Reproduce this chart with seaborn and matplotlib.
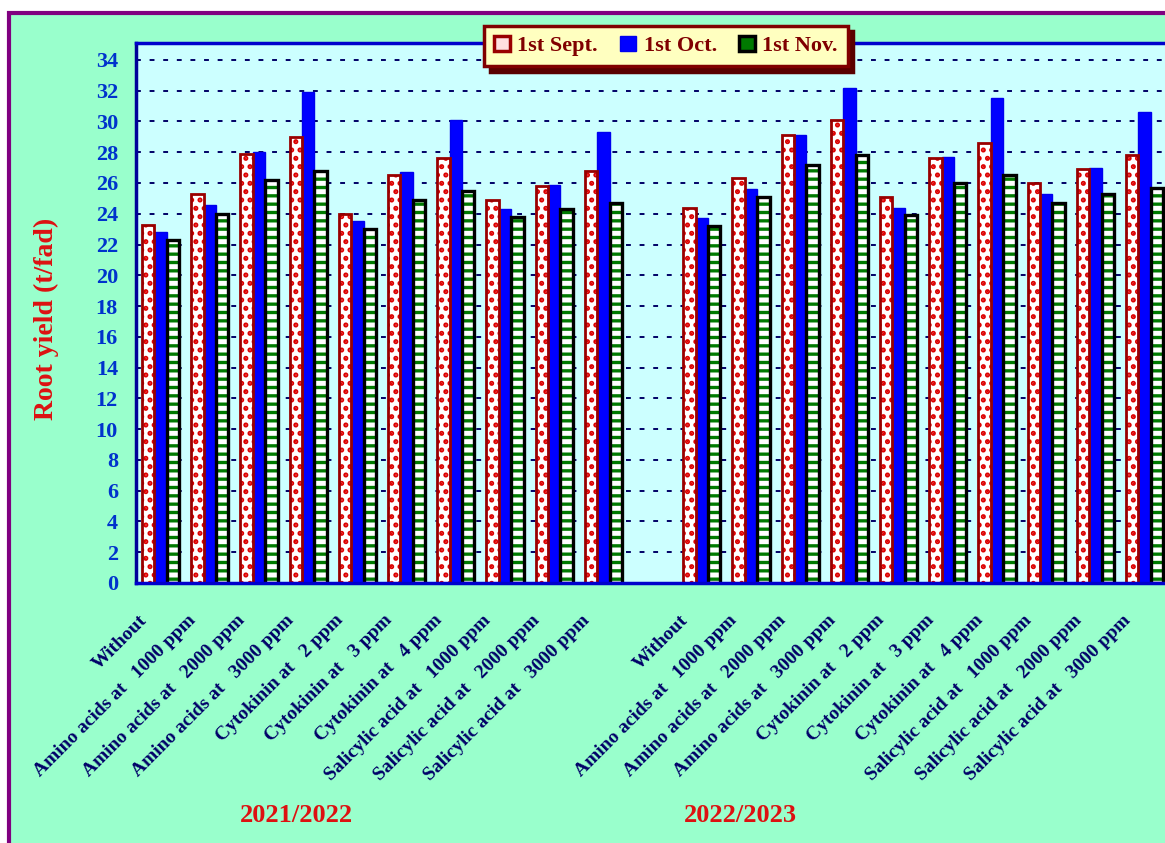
import numpy as np
import pandas as pd
import matplotlib
matplotlib.use("Agg")
import matplotlib.pyplot as plt
import matplotlib.transforms as mtransforms
from matplotlib.patches import Rectangle, Patch
import seaborn as sns

# ---------------- data ----------------
treatments = ["Without",
              "Amino acids at   1000 ppm", "Amino acids at   2000 ppm", "Amino acids at   3000 ppm",
              "Cytokinin at   2 ppm", "Cytokinin at   3 ppm", "Cytokinin at   4 ppm",
              "Salicylic acid at   1000 ppm", "Salicylic acid at   2000 ppm", "Salicylic acid at   3000 ppm"]
seasons = ["2021/2022", "2022/2023"]
dates = ["1st Sept.", "1st Oct.", "1st Nov."]

sept_2122 = [23.3, 25.3, 27.9, 29.0, 24.0, 26.5, 27.6, 24.9, 25.8, 26.8]
oct_2122 = [22.8, 24.6, 28.0, 31.9, 23.5, 26.7, 30.1, 24.3, 25.9, 29.3]
nov_2122 = [22.3, 24.0, 26.2, 26.8, 23.0, 24.9, 25.5, 23.8, 24.3, 24.7]
sept_2223 = [24.4, 26.3, 29.1, 30.1, 25.1, 27.6, 28.6, 26.0, 26.9, 27.8]
oct_2223 = [23.7, 25.6, 29.1, 32.2, 24.4, 27.7, 31.5, 25.3, 27.0, 30.6]
nov_2223 = [23.2, 25.1, 27.2, 27.8, 23.9, 26.0, 26.5, 24.7, 25.3, 25.7]
yticks = list(range(0, 35, 2))

values = {
    (seasons[0], dates[0]): sept_2122, (seasons[0], dates[1]): oct_2122, (seasons[0], dates[2]): nov_2122,
    (seasons[1], dates[0]): sept_2223, (seasons[1], dates[1]): oct_2223, (seasons[1], dates[2]): nov_2223,
}

n_t = len(treatments)
rows = []
for s_i, s in enumerate(seasons):
    for d in dates:
        for t_i, v in enumerate(values[(s, d)]):
            rows.append({"pos": t_i + s_i * (n_t + 1), "date": d, "value": v})
df = pd.DataFrame(rows)

# ---------------- style ----------------
sns.set_style("white")
plt.rcParams["font.family"] = ["Liberation Serif", "DejaVu Serif"]
plt.rcParams["hatch.linewidth"] = 2.4

W, H = 1165, 843
fig = plt.figure(figsize=(W / 100, H / 100), dpi=100)
fig.patch.set_facecolor("white")
frame = Rectangle((9 / W, -0.05), 1.2, 1.05 - 13 / H, transform=fig.transFigure,
                  facecolor="#99FFCC", edgecolor="#800080", lw=3, zorder=-10)
fig.add_artist(frame)

n_slots = 2 * n_t + 1
ax_left, ax_top, ax_bot = 136 / W, 1 - 43 / H, 1 - 583 / H
ax_w = (n_slots * 49.2) / W
ax = fig.add_axes([ax_left, ax_bot, ax_w, ax_top - ax_bot])
ax.set_facecolor("#CCFFFF")

palette = {"1st Sept.": "#FFFFFF", "1st Oct.": "#0000FF", "1st Nov.": "#FFFFFF"}
sns.barplot(data=df, x="pos", y="value", hue="date", hue_order=dates, native_scale=True,
            palette=palette, saturation=1, width=0.76, errorbar=None, legend=False, ax=ax)

styles = [
    dict(hatch_color="#DD0000", hatch="..", edge="#990000", lw=2.0),
    None,
    dict(hatch_color="#007A00", hatch="--", edge="#000000", lw=2.4),
]
for cont, st in zip(ax.containers, styles):
    for p in cont.patches:
        if st is None:
            p.set_edgecolor("#0000EE")
            p.set_linewidth(1.0)
            continue
        p.set_facecolor("white")
        p.set_edgecolor(st["hatch_color"])
        p.set_hatch(st["hatch"])
        p.set_linewidth(0)
        ax.add_patch(Rectangle(p.get_xy(), p.get_width(), p.get_height(), fill=False,
                               edgecolor=st["edge"], lw=st["lw"], zorder=p.get_zorder() + 0.1))

ax.set_xlim(-0.5, n_slots - 0.5)
ax.set_ylim(0, 35.1)
ax.set_yticks(yticks)
ax.set_yticklabels([str(v) for v in yticks])
ax.yaxis.grid(True, color="#000066", linestyle=(0, (2.5, 4.5)), lw=1.4)
ax.xaxis.grid(False)
ax.set_axisbelow(True)

centers = [t_i + s_i * (n_t + 1) for s_i in range(len(seasons)) for t_i in range(n_t)]
ax.set_xticks(centers)
ax.set_xticklabels(treatments * len(seasons), rotation=45, ha="right", va="center",
                   rotation_mode="anchor", fontsize=14, fontweight="bold", color="#000068")
ax.set_xticks(np.arange(-0.5, n_slots), minor=True)
ax.tick_params(axis="x", which="major", length=0, pad=25)
ax.tick_params(axis="x", which="minor", length=6, width=1.5, color="#0000CC", direction="out")
ax.tick_params(axis="y", length=6, width=1.5, color="#000066", direction="out", pad=7,
               labelsize=16, labelcolor="#0033CC")
for lab in ax.get_yticklabels():
    lab.set_fontweight("bold")
off = mtransforms.ScaledTranslation(-12 / 72, 0, fig.dpi_scale_trans)
for lab in ax.get_xticklabels():
    lab.set_transform(lab.get_transform() + off)

ax.set_xlabel("")
ax.set_ylabel("Root yield (t/fad)", fontsize=20, fontweight="bold", color="#DD1111")
ax.yaxis.set_label_coords(46 / W, 1 - 319 / H, transform=fig.transFigure)
ax.yaxis.label.set_va("center")

for sp in ["left"]:
    ax.spines[sp].set_color("#000099")
    ax.spines[sp].set_linewidth(2.5)
for sp in ["top", "bottom", "right"]:
    ax.spines[sp].set_color("#0000CC")
    ax.spines[sp].set_linewidth(2.5)

fig.text(296 / W, 1 - 815 / H, seasons[0], ha="center", va="center", fontsize=19,
         fontweight="bold", color="#DD1111")
fig.text(740 / W, 1 - 815 / H, seasons[1], ha="center", va="center", fontsize=19,
         fontweight="bold", color="#DD1111")

handles = [Patch(facecolor="#FFE0E0", edgecolor="#990000", lw=2.5),
           Patch(facecolor="#0000FF", edgecolor="#0000EE", lw=1),
           Patch(facecolor="#007A00", edgecolor="#000000", lw=2.5)]
leg = fig.legend(handles, dates, loc="center", bbox_to_anchor=(666 / W, 1 - 46 / H), ncol=3,
                 frameon=True, fancybox=False,
                 shadow={"color": "#5A0000", "alpha": 1, "ox": 4, "oy": -4},
                 prop=dict(family="Liberation Serif", weight="bold", size=16),
                 labelcolor="#800000", facecolor="#FFFFC0", edgecolor="#800000", framealpha=1,
                 handlelength=0.7, handleheight=0.7, handletextpad=0.35, columnspacing=1.0,
                 borderpad=0.45)
leg.get_frame().set_linewidth(2.5)

fig.savefig("out.png", dpi=100, facecolor=fig.get_facecolor())
